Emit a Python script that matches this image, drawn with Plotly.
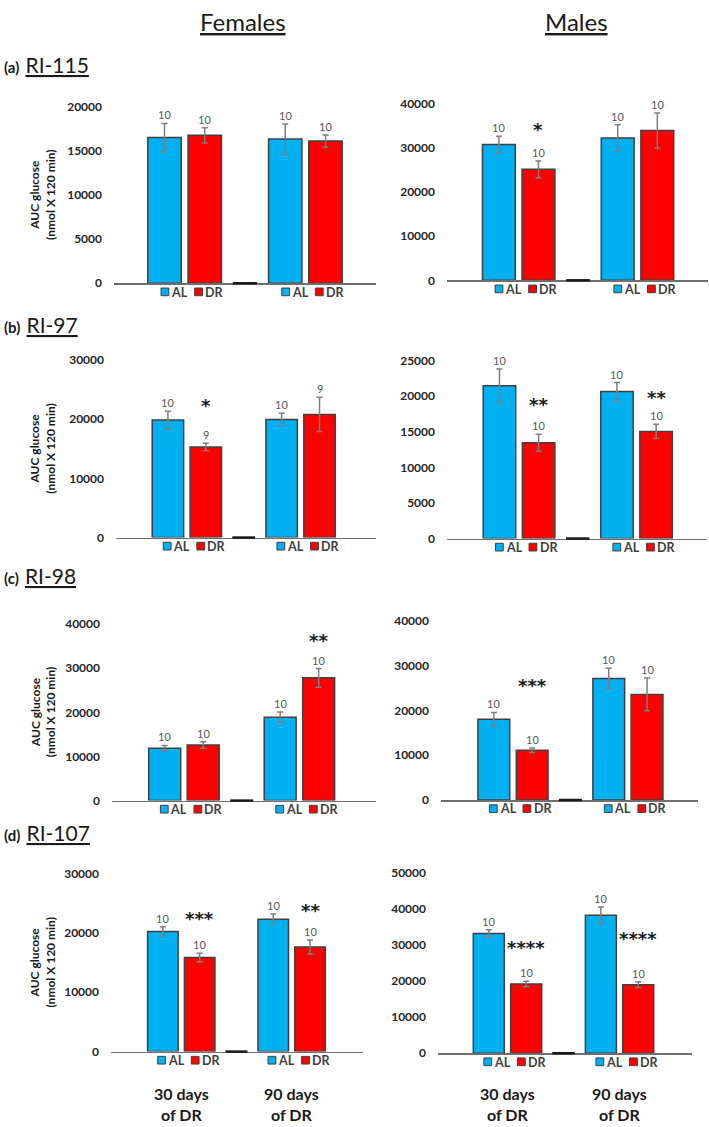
import plotly.graph_objects as go

W, H = 709, 1127
FONT = "Lato"

# ---------------- data ----------------
strains = ["RI-115", "RI-97", "RI-98", "RI-107"]
panel_tags = ["(a)", "(b)", "(c)", "(d)"]
categories = ["AL", "DR", "", "AL", "DR"]          # middle slot is the group separator
bar_slots = [0, 1, 3, 4]
group_labels = ["30 days<br>of DR", "90 days<br>of DR"]

female_mean = [
    [16500, 16750, 16350, 16100],
    [19850, 15300, 19950, 20800],
    [11850, 12600, 18900, 27800],
    [20250, 15850, 22300, 17650],
]
female_err = [
    [1600, 850, 1700, 700],
    [1500, 650, 1050, 2900],
    [650, 750, 1150, 2100],
    [780, 720, 890, 1150],
]
female_n = [
    [10, 10, 10, 10],
    [10, 9, 10, 9],
    [10, 10, 10, 10],
    [10, 10, 10, 10],
]
female_sig = [
    ["", "", "", ""],
    ["", "*", "", ""],
    ["", "", "", "**"],
    ["", "***", "", "**"],
]

male_mean = [
    [30700, 25100, 32200, 33850],
    [21450, 13450, 20650, 15050],
    [18000, 11100, 27100, 23550],
    [33200, 19200, 38250, 19000],
]
male_err = [
    [1850, 1900, 3000, 4000],
    [2350, 1200, 1250, 1000],
    [1550, 500, 2300, 3650],
    [1050, 750, 2350, 800],
]
male_n = [
    [10, 10, 10, 10],
    [10, 10, 10, 10],
    [10, 10, 10, 10],
    [10, 10, 10, 10],
]
male_sig = [
    ["", "*", "", ""],
    ["", "**", "", "**"],
    ["", "***", "", ""],
    ["", "****", "", "****"],
]

female_ymax = [20000, 30000, 40000, 30000]
female_dtick = [5000, 10000, 10000, 10000]
male_ymax = [40000, 25000, 40000, 50000]
male_dtick = [10000, 5000, 10000, 10000]

# ---------------- layout geometry (pixels) ----------------
# (left, right, y of zero, y of top tick, x-range lo, x-range hi)
geom_f = [
    (114, 376, 279.0, 100.0, -1.255, 5.255),
    (116, 376, 536.7, 356.7, -1.37, 5.49),
    (112, 376, 803.3, 624.3, -1.37, 5.49),
    (111, 363, 1057.7, 877.3, -1.41, 5.44),
]
geom_m = [
    (447, 708, 276.0, 96.7, -1.31, 5.28),
    (447, 707, 537.7, 357.3, -1.34, 5.30),
    (441, 698, 802.7, 621.0, -1.38, 5.33),
    (438, 692, 1059.3, 876.7, -1.36, 5.44),
]
# vertical offsets (px above error-bar top) of significance stars
sig_shift_f = [[0, 0, 0, 0], [0, 38, 0, 0], [0, 0, 0, 28], [0, 35, 0, 30]]
sig_shift_m = [[0, 31, 0, 0], [0, 30, 0, 27], [0, 63, 0, 0], [0, 34, 0, 43]]

BLUE = "#00B0F0"
RED = "#FF0000"
colors = [BLUE, RED, BLUE, RED]

fig = go.Figure()
annotations = []
shapes = []
layout_axes = {}


def px_x(g, v):
    left, right, yz, yt, xlo, xhi = g
    return left + (v - xlo) / (xhi - xlo) * (right - left)


panels = []
for i in range(4):
    panels.append(("F", i, female_mean[i], female_err[i], female_n[i], female_sig[i],
                   female_ymax[i], female_dtick[i], geom_f[i], sig_shift_f[i]))
    panels.append(("M", i, male_mean[i], male_err[i], male_n[i], male_sig[i],
                   male_ymax[i], male_dtick[i], geom_m[i], sig_shift_m[i]))

for k, (sex, i, mean, err, n, sig, ymax, dtick, g, sshift) in enumerate(panels, start=1):
    left, right, yz, yt, xlo, xhi = g
    xa = "x" if k == 1 else f"x{k}"
    ya = "y" if k == 1 else f"y{k}"
    xkey = "xaxis" if k == 1 else f"xaxis{k}"
    ykey = "yaxis" if k == 1 else f"yaxis{k}"

    layout_axes[xkey] = dict(
        domain=[left / W, right / W], range=[xlo, xhi], anchor=ya,
        showline=True, linecolor="#6e6e6e", linewidth=1.5,
        showticklabels=False, ticks="", showgrid=False, zeroline=False, fixedrange=True,
    )
    layout_axes[ykey] = dict(
        domain=[1 - yz / H, 1 - yt / H], range=[0, ymax], anchor=xa,
        dtick=dtick, tick0=0, tickformat="d", showline=False, showgrid=False,
        zeroline=False, ticks="", ticklabelstandoff=11, fixedrange=True,
        tickfont=dict(family=FONT, size=12, color="#262626", weight="bold"),
    )

    fig.add_trace(go.Bar(
        x=bar_slots, y=mean, width=0.83, xaxis=xa, yaxis=ya,
        marker=dict(color=colors, line=dict(color="#404040", width=1.5)),
        error_y=dict(type="data", array=err, color="#7f7f7f", thickness=1.5, width=3),
        showlegend=False, hoverinfo="skip",
    ))

    # separator in the middle slot (dark segment on the axis)
    sep = categories.index("")
    shapes.append(dict(type="line", xref="paper", yref="paper",
                       x0=px_x(g, sep - 0.3) / W, x1=px_x(g, sep + 0.3) / W,
                       y0=1 - yz / H, y1=1 - yz / H,
                       line=dict(color="#1a1a1a", width=2.5)))

    # n labels and significance stars
    for j, pos in enumerate(bar_slots):
        top = mean[j] + err[j]
        annotations.append(dict(
            x=pos, y=top, xref=xa, yref=ya, text=str(n[j]), showarrow=False,
            yanchor="bottom", yshift=0,
            font=dict(family=FONT, size=11, color="#595959"),
        ))
        if sig[j]:
            annotations.append(dict(
                x=pos, y=top, xref=xa, yref=ya, text=sig[j], showarrow=False,
                yanchor="middle", yshift=sshift[j],
                font=dict(family="DejaVu Sans", size=18, color="#1a1a1a", weight="bold"),
            ))

    # pseudo-legends under each group
    for gi in range(2):
        c = (bar_slots[2 * gi] + bar_slots[2 * gi + 1]) / 2
        cpx = px_x(g, c)
        for lab, col, sx0, tx in (("AL", BLUE, -23.6, -15.5), ("DR", RED, 10, 18.5)):
            shapes.append(dict(
                type="rect", xref="paper", yref="paper",
                x0=(cpx + sx0) / W, x1=(cpx + sx0 + 7.8) / W,
                y0=1 - (yz + 12.6) / H, y1=1 - (yz + 4.8) / H,
                fillcolor=col, line=dict(color="#404040", width=1),
            ))
            annotations.append(dict(
                x=(cpx + tx) / W, y=1 - (yz + 9) / H, xref="paper", yref="paper",
                text=f"<b>{lab}</b>", showarrow=False,
                xanchor="left", yanchor="middle",
                font=dict(family=FONT, size=12.5, color="#404040"),
            ))
        if i == 3:
            annotations.append(dict(
                x=c, y=1 - 1111 / H, xref=xa, yref="paper", text=f"<b>{group_labels[gi]}</b>",
                showarrow=False, xanchor="center", yanchor="middle",
                font=dict(family=FONT, size=16, color="#1a1a1a"),
            ))

    if sex == "F":
        annotations.append(dict(
            x=43 / W, y=1 - (yz + yt) / 2 / H, xref="paper", yref="paper",
            text="<b>AUC glucose<br>(nmol X 120 min)</b>", textangle=-90, showarrow=False,
            xanchor="center", yanchor="middle",
            font=dict(family=FONT, size=12, color="#1a1a1a"),
        ))

# panel tags
tag_y = [57, 320.5, 575.5, 835.5]
for i in range(4):
    annotations.append(dict(
        x=2 / W, y=1 - tag_y[i] / H, xref="paper", yref="paper", showarrow=False,
        xanchor="left", yanchor="middle",
        text=(f'<span style="font-size:15px"><b>{panel_tags[i]}</b></span>&nbsp;&nbsp;'
              f'<span style="font-size:21px"><u>{strains[i]}</u></span>'),
        font=dict(family=FONT, color="#1a1a1a"),
    ))

# column headings
for txt, xc in (("Females", 243), ("Males", 576)):
    annotations.append(dict(
        x=xc / W, y=1 - 14 / H, xref="paper", yref="paper", showarrow=False,
        xanchor="center", yanchor="middle", text=f"<u>{txt}</u>",
        font=dict(family=FONT, size=24, color="#1a1a1a"),
    ))

fig.update_layout(
    width=W, height=H, autosize=False,
    margin=dict(l=0, r=0, t=0, b=0),
    paper_bgcolor="white", plot_bgcolor="white",
    bargap=0, annotations=annotations, shapes=shapes,
    **layout_axes,
)

fig.write_html(
    "out.html",
    config={"displayModeBar": False, "staticPlot": True},
    post_script="document.body.style.margin='0px';document.body.style.overflow='hidden';",
)
